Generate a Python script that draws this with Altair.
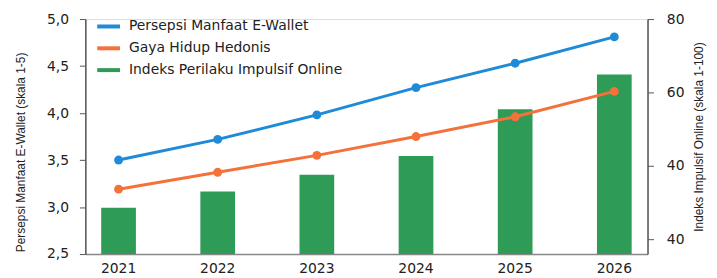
import altair as alt
import pandas as pd

years = ["2021", "2022", "2023", "2024", "2025", "2026"]
persepsi = [3.50, 3.72, 3.98, 4.27, 4.53, 4.81]
gaya_hidup = [3.19, 3.37, 3.55, 3.75, 3.96, 4.23]
indeks = [28.6, 33.0, 37.6, 42.7, 55.4, 64.9]

s_persepsi = "Persepsi Manfaat E-Wallet"
s_gaya = "Gaya Hidup Hedonis"
s_indeks = "Indeks Perilaku Impulsif Online"

left_title = "Persepsi Manfaat E-Wallet (skala 1-5)"
right_title = "Indeks Impulsif Online (skala 1-100)"

left_ticks = [2.5, 3.0, 3.5, 4.0, 4.5, 5.0]
right_ticks = [20, 40, 60, 80]

series_order = [s_persepsi, s_gaya, s_indeks]
series_colors = ["#1f8ad8", "#f4713a", "#2e9b57"]

line_df = pd.DataFrame({
    "Tahun": years * 2,
    "Nilai": persepsi + gaya_hidup,
    "Seri": [s_persepsi] * len(years) + [s_gaya] * len(years),
})
bar_df = pd.DataFrame({"Tahun": years, "Nilai": indeks, "Seri": [s_indeks] * len(years)})

FONT = "DejaVu Sans"
TFONT = "Liberation Sans"

x_enc = alt.X(
    "Tahun:N",
    sort=years,
    scale=alt.Scale(paddingInner=0.65, paddingOuter=0.16),
    axis=alt.Axis(
        title=None, labelAngle=0, ticks=False, labelFontSize=14, labelColor="#222",
        labelFont=FONT, labelPadding=8, domainColor="#888", domainWidth=1.5,
    ),
)

color_scale = alt.Scale(domain=series_order, range=series_colors)

bars = alt.Chart(bar_df).mark_bar(color="#2e9b57").encode(
    x=x_enc,
    y=alt.Y(
        "Nilai:Q",
        scale=alt.Scale(domain=[16, 80], nice=False, zero=False, clamp=True),
        axis=alt.Axis(
            orient="right", values=right_ticks, title=right_title, titleAngle=270,
            titleFont=TFONT, titleFontSize=12, titleFontWeight="normal", titleColor="#222",
            titlePadding=22, labelFont=FONT, labelFontSize=14, labelColor="#222",
            labelPadding=13, tickSize=6, tickColor="#555", domainColor="#555", domainWidth=1.5,
            grid=False,
            labelExpr="datum.value == 20 ? '40' : datum.label",
        ),
    ),
    color=alt.Color("Seri:N", scale=color_scale, sort=series_order),
)

lines = alt.Chart(line_df).mark_line(strokeWidth=3, point=alt.OverlayMarkDef(size=80, filled=True)).encode(
    x=x_enc,
    y=alt.Y(
        "Nilai:Q",
        scale=alt.Scale(domain=[2.5, 5.0], nice=False, zero=False),
        axis=alt.Axis(
            orient="left", values=left_ticks, title=left_title,
            titleFont=TFONT, titleFontSize=12, titleFontWeight="normal", titleColor="#222",
            titlePadding=19, titleY=134, labelFont=FONT, labelFontSize=14, labelColor="#222",
            labelPadding=11, tickSize=6, tickColor="#555", domainColor="#555", domainWidth=1.5,
            grid=False,
            labelExpr="replace(format(datum.value, '.1f'), '.', ',')",
        ),
    ),
    color=alt.Color(
        "Seri:N", scale=color_scale, sort=series_order,
        legend=alt.Legend(
            title=None, orient="none", legendX=10, legendY=-6,
            symbolType="stroke", symbolSize=529, symbolStrokeWidth=4,
            labelFont=FONT, labelFontSize=14, labelColor="#222", rowPadding=0,
            labelOffset=7, labelLimit=400,
        ),
    ),
)

chart = alt.layer(bars, lines).resolve_scale(y="independent").properties(
    width=567, height=237,
    autosize=alt.AutoSizeParams(type="none"),
    padding={"left": 78, "top": 10, "right": 62, "bottom": 20},
).configure_view(stroke=None).configure(background="white")

chart.save("out.html", embed_options={"renderer": "svg", "actions": False})
